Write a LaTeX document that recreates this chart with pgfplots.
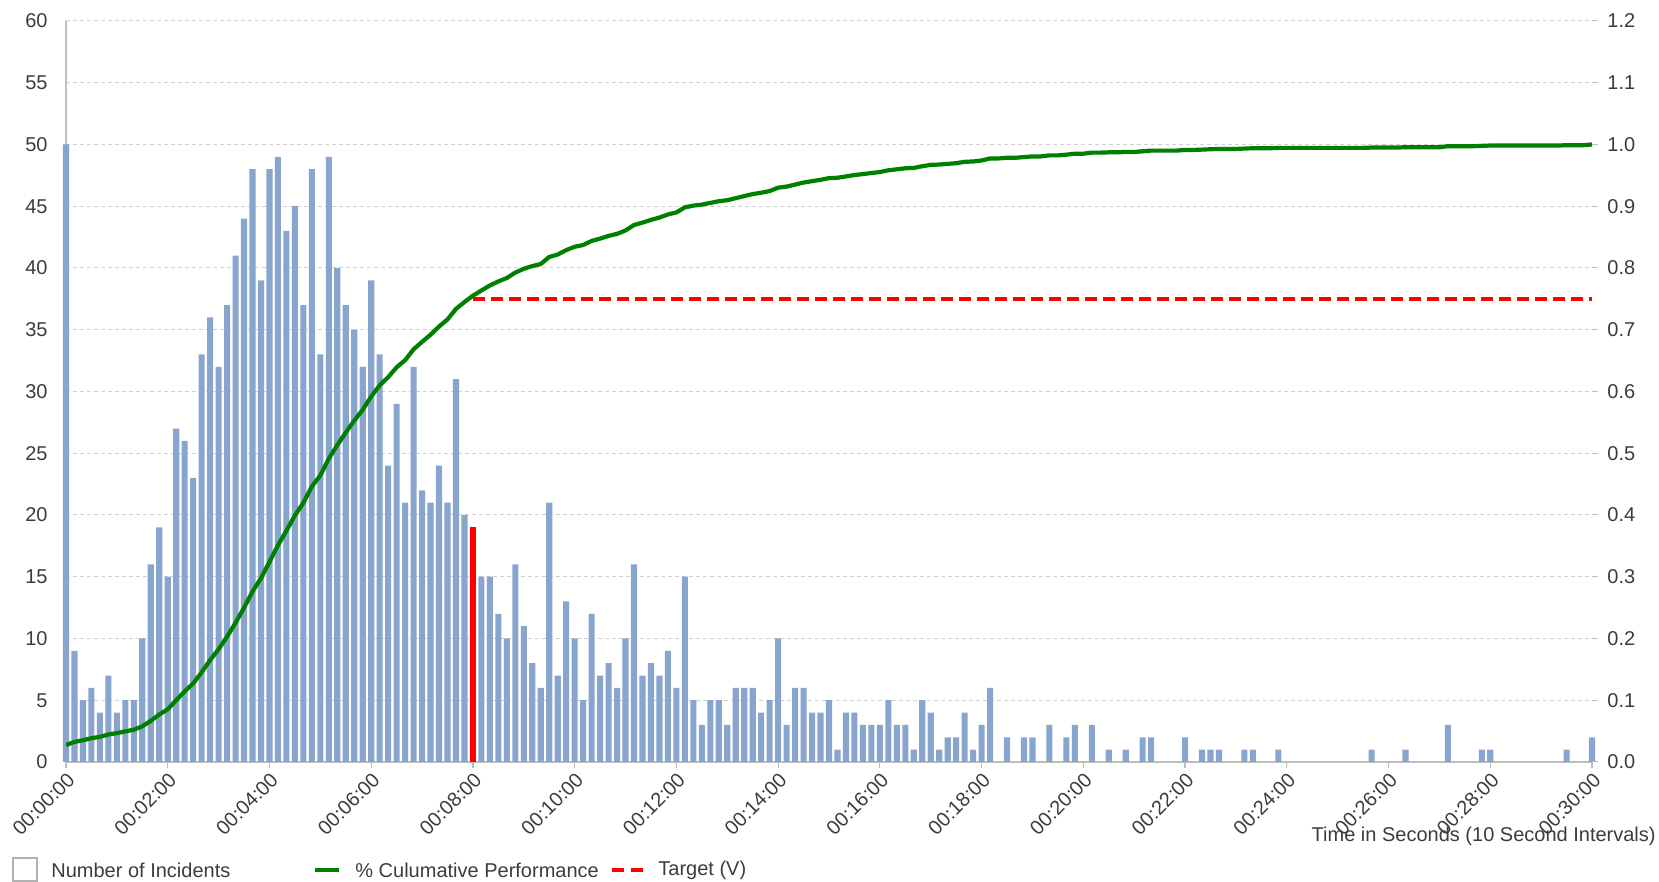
\documentclass[border=0pt]{standalone}
\usepackage{fontspec}
\setmainfont{Liberation Sans}
\usepackage{pgfplots}
\pgfplotsset{compat=1.18}
\usepackage{pgfplotstable}
\definecolor{barblue}{RGB}{136,165,207}
\definecolor{lgreen}{RGB}{0,128,0}
\definecolor{gridgray}{RGB}{208,208,208}
\definecolor{axgray}{RGB}{190,190,190}
\definecolor{txtgray}{RGB}{60,60,60}
\pgfplotstableread[row sep=\\]{
i n c\\
0 50 0.0275\\ 1 9 0.0325\\ 2 5 0.0352\\ 3 6 0.0385\\ 4 4 0.0407\\ 5 7 0.0446\\
6 4 0.0468\\ 7 5 0.0495\\ 8 5 0.0523\\ 9 10 0.0578\\ 10 16 0.0666\\ 11 19 0.0770\\
12 15 0.0853\\ 13 27 0.1001\\ 14 26 0.1144\\ 15 23 0.1271\\ 16 33 0.1452\\ 17 36 0.1650\\
18 32 0.1826\\ 19 37 0.2030\\ 20 41 0.2255\\ 21 44 0.2497\\ 22 48 0.2761\\ 23 39 0.2976\\
24 48 0.3240\\ 25 49 0.3509\\ 26 43 0.3746\\ 27 45 0.3993\\ 28 37 0.4197\\ 29 48 0.4461\\
30 33 0.4642\\ 31 49 0.4912\\ 32 40 0.5132\\ 33 37 0.5336\\ 34 35 0.5528\\ 35 32 0.5704\\
36 39 0.5919\\ 37 33 0.6100\\ 38 24 0.6232\\ 39 29 0.6392\\ 40 21 0.6507\\ 41 32 0.6683\\
42 22 0.6804\\ 43 21 0.6920\\ 44 24 0.7052\\ 45 21 0.7167\\ 46 31 0.7338\\ 47 20 0.7448\\
48 19 0.7552\\ 49 15 0.7635\\ 50 15 0.7717\\ 51 12 0.7783\\ 52 10 0.7838\\ 53 16 0.7926\\
54 11 0.7987\\ 55 8 0.8031\\ 56 6 0.8064\\ 57 21 0.8179\\ 58 7 0.8218\\ 59 13 0.8289\\
60 10 0.8344\\ 61 5 0.8372\\ 62 12 0.8438\\ 63 7 0.8476\\ 64 8 0.8520\\ 65 6 0.8553\\
66 10 0.8608\\ 67 16 0.8696\\ 68 7 0.8735\\ 69 8 0.8779\\ 70 7 0.8817\\ 71 9 0.8867\\
72 6 0.8900\\ 73 15 0.8982\\ 74 5 0.9010\\ 75 3 0.9026\\ 76 5 0.9054\\ 77 5 0.9081\\
78 3 0.9098\\ 79 6 0.9131\\ 80 6 0.9164\\ 81 6 0.9197\\ 82 4 0.9219\\ 83 5 0.9246\\
84 10 0.9301\\ 85 3 0.9318\\ 86 6 0.9351\\ 87 6 0.9384\\ 88 4 0.9406\\ 89 4 0.9428\\
90 5 0.9455\\ 91 1 0.9461\\ 92 4 0.9483\\ 93 4 0.9505\\ 94 3 0.9521\\ 95 3 0.9538\\
96 3 0.9554\\ 97 5 0.9582\\ 98 3 0.9598\\ 99 3 0.9615\\ 100 1 0.9620\\ 101 5 0.9648\\
102 4 0.9670\\ 103 1 0.9675\\ 104 2 0.9686\\ 105 2 0.9697\\ 106 4 0.9719\\ 107 1 0.9725\\
108 3 0.9741\\ 109 6 0.9774\\ 110 0 0.9774\\ 111 2 0.9785\\ 112 0 0.9785\\ 113 2 0.9796\\
114 2 0.9807\\ 115 0 0.9807\\ 116 3 0.9824\\ 117 0 0.9824\\ 118 2 0.9835\\ 119 3 0.9851\\
120 0 0.9851\\ 121 3 0.9868\\ 122 0 0.9868\\ 123 1 0.9873\\ 124 0 0.9873\\ 125 1 0.9879\\
126 0 0.9879\\ 127 2 0.9890\\ 128 2 0.9901\\ 129 0 0.9901\\ 130 0 0.9901\\ 131 0 0.9901\\
132 2 0.9912\\ 133 0 0.9912\\ 134 1 0.9917\\ 135 1 0.9923\\ 136 1 0.9928\\ 137 0 0.9928\\
138 0 0.9928\\ 139 1 0.9934\\ 140 1 0.9939\\ 141 0 0.9939\\ 142 0 0.9939\\ 143 1 0.9945\\
144 0 0.9945\\ 145 0 0.9945\\ 146 0 0.9945\\ 147 0 0.9945\\ 148 0 0.9945\\ 149 0 0.9945\\
150 0 0.9945\\ 151 0 0.9945\\ 152 0 0.9945\\ 153 0 0.9945\\ 154 1 0.9950\\ 155 0 0.9950\\
156 0 0.9950\\ 157 0 0.9950\\ 158 1 0.9956\\ 159 0 0.9956\\ 160 0 0.9956\\ 161 0 0.9956\\
162 0 0.9956\\ 163 3 0.9972\\ 164 0 0.9972\\ 165 0 0.9972\\ 166 0 0.9972\\ 167 1 0.9978\\
168 1 0.9983\\ 169 0 0.9983\\ 170 0 0.9983\\ 171 0 0.9983\\ 172 0 0.9983\\ 173 0 0.9983\\
174 0 0.9983\\ 175 0 0.9983\\ 176 0 0.9983\\ 177 1 0.9989\\ 178 0 0.9989\\ 179 0 0.9989\\
180 2 1.0000\\
}\incid
\pgfplotstableread[row sep=\\]{
i n\\
48 19\\
}\redbar
\pgfplotstableread[row sep=\\]{
i t\\
48 0.75\\
180 0.75\\
}\target
\begin{document}
\begin{tikzpicture}
\begin{axis}[
  at={(0,0)}, anchor=south west,
  scale only axis, width=763pt, height=370.5pt,
  xmin=0, xmax=180, ymin=0, ymax=60,
  clip=false,
  axis x line*=bottom, axis y line*=left,
  x axis line style={axgray, line width=0.6pt},
  y axis line style={axgray, line width=0.6pt},
  tick align=outside, major tick length=3pt,
  xtick={0,12,...,180},
  xticklabels={00:00:00,00:02:00,00:04:00,00:06:00,00:08:00,00:10:00,00:12:00,00:14:00,00:16:00,00:18:00,00:20:00,00:22:00,00:24:00,00:26:00,00:28:00,00:30:00},
  x tick label style={rotate=45, anchor=north east, text=txtgray, inner sep=1pt},
  xtick style={axgray, line width=0.6pt},
  ytick={0,5,...,60},
  ytick style={draw=none},
  y tick label style={text=txtgray, xshift=-2.7pt},
  /pgf/number format/assume math mode=true,
  ymajorgrids,
  grid style={gridgray, dash pattern=on 2pt off 1.5pt, line width=0.5pt},
  xlabel={Time in Seconds (10 Second Intervals)},
  xlabel style={at={(axis description cs:1,0)}, anchor=east, xshift=32pt, yshift=-37pt, text=txtgray, inner sep=0pt},
]
\addplot[ybar, bar width=0.72, bar shift=0pt, fill=barblue, draw=none] table[x=i, y=n] {\incid};
\addplot[ybar, bar width=0.72, bar shift=0pt, fill=red, draw=none] table[x=i, y=n] {\redbar};
\end{axis}
\begin{axis}[
  at={(0,0)}, anchor=south west,
  scale only axis, width=763pt, height=370.5pt,
  xmin=0, xmax=180, ymin=0, ymax=1.2,
  axis x line=none,
  axis y line*=right,
  y axis line style={draw=none},
  tick align=outside, major tick length=3pt,
  ytick={0,0.1,0.2,0.3,0.4,0.5,0.6,0.7,0.8,0.9,1.0,1.1,1.2},
  ytick style={axgray, line width=0.5pt},
  y tick label style={text=txtgray, xshift=1.2pt},
  yticklabel style={/pgf/number format/.cd, fixed, fixed zerofill, precision=1},
  /pgf/number format/assume math mode=true,
]
\addplot[red, line width=1.9pt, dash pattern=on 6pt off 3pt] table[x=i, y=t] {\target};
\addplot[lgreen, line width=2.1pt, line join=round] table[x=i, y=c] {\incid};
\end{axis}
% legend
\draw[gray!60, line width=0.6pt, fill=white] (-26.5pt,-59.5pt) rectangle (-14.5pt,-48pt);
\node[anchor=west, inner sep=0pt, text=txtgray] at (-7.5pt,-54pt) {Number of Incidents};
\draw[lgreen, line width=1.8pt] (124.5pt,-54pt) -- (136.5pt,-54pt);
\node[anchor=west, inner sep=0pt, text=txtgray] at (144.5pt,-54pt) {\% Culumative Performance};
\draw[red, line width=1.8pt, dash pattern=on 6pt off 3.5pt] (273pt,-54pt) -- (288.5pt,-54pt);
\node[anchor=west, inner sep=0pt, text=txtgray] at (296pt,-54pt) {Target (V)};
\pgfresetboundingbox
\path[use as bounding box] (-33pt,-60pt) rectangle (796.5pt,381pt);
\end{tikzpicture}
\end{document}
